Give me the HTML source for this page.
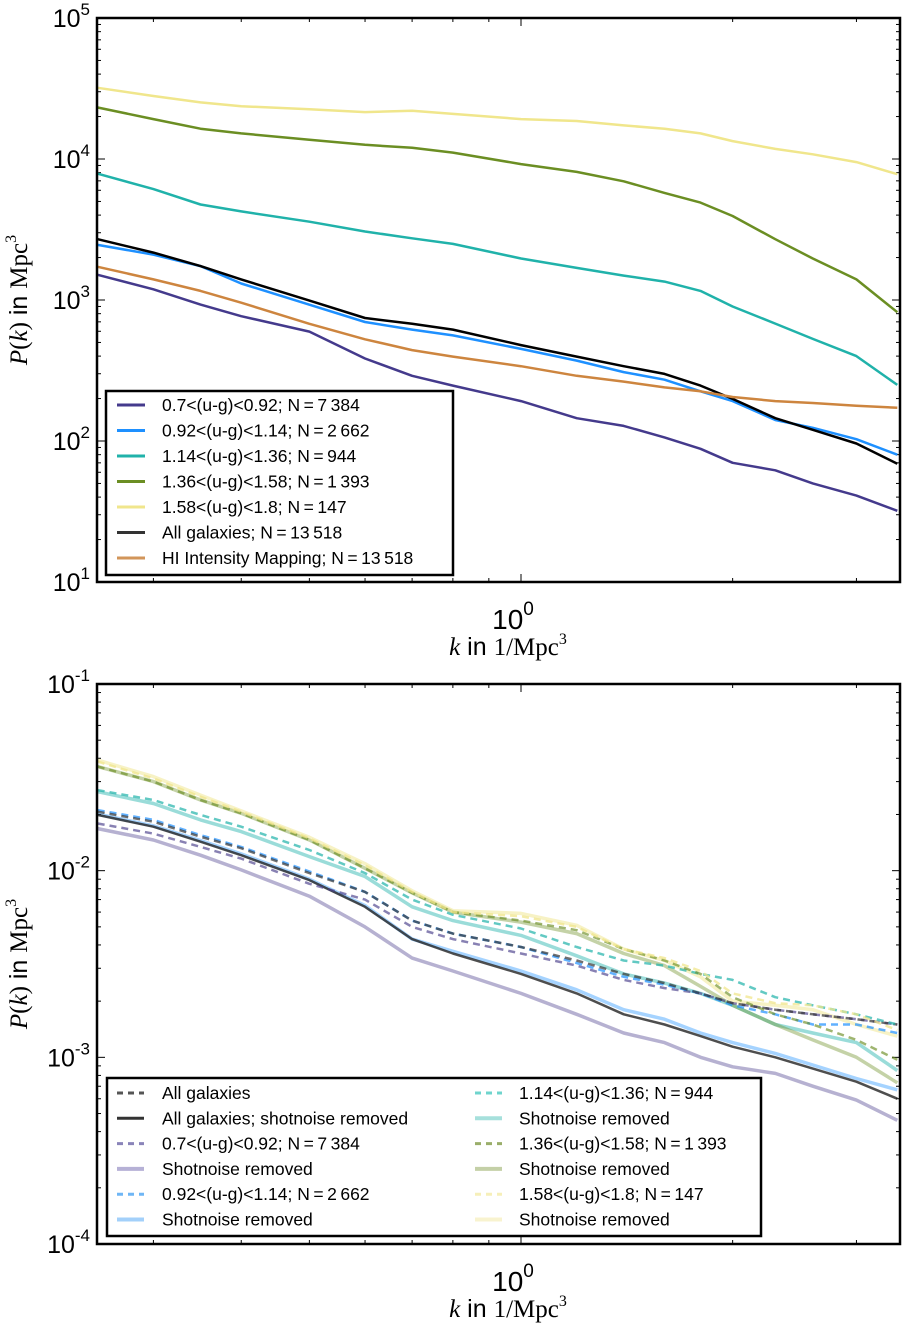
<!DOCTYPE html>
<html><head><meta charset="utf-8"><style>
html,body{margin:0;padding:0;background:#fff;}
svg{display:block;font-family:"Liberation Sans",sans-serif;}
</style></head><body>
<svg id="fig" width="907" height="1326" viewBox="0 0 907 1326" xmlns="http://www.w3.org/2000/svg"></svg>
<script>
// ---- shared data ----
const kValues = [0.25,0.3,0.35,0.4,0.5,0.6,0.7,0.8,1.0,1.2,1.4,1.6,1.8,2.0,2.3,2.6,3.0,3.43];
// top panel
const topPurple = [1510,1190,927,768,597,385,290,247,192,145,128,106,88,70,62,50,41,32];
const topBlue   = [2460,2100,1740,1310,926,698,617,561,450,372,308,272,225,192,141,124,103,80];
const topTeal   = [7870,6120,4760,4250,3590,3060,2740,2500,1970,1690,1490,1350,1160,900,680,530,400,250];
const topGreen  = [23200,19200,16400,15200,13700,12600,12000,11100,9200,8100,6950,5750,4910,3940,2700,1970,1400,820];
const topYellow = [32000,28000,25200,23700,22500,21500,22000,20900,19200,18600,17300,16400,15200,13400,11800,10800,9500,7800];
const topAll    = [2700,2170,1740,1400,990,745,678,617,479,397,339,299,247,199,145,120,96,69];
const topHI     = [1720,1400,1160,957,678,526,441,397,339,290,264,240,225,205,192,186,178,172];
const topLabels = ["0.7<(u-g)<0.92; N\u2009=\u20097\u2009384","0.92<(u-g)<1.14; N\u2009=\u20092\u2009662","1.14<(u-g)<1.36; N\u2009=\u2009944","1.36<(u-g)<1.58; N\u2009=\u20091\u2009393","1.58<(u-g)<1.8; N\u2009=\u2009147","All galaxies; N\u2009=\u200913\u2009518","HI Intensity Mapping; N\u2009=\u200913\u2009518"];
// bottom panel
const botAllDash    = [.0207,.0183,.0152,.0132,.0097,.0077,.0054,.0046,.0039,.0033,.0028,.0025,.0022,.00195,.0018,.0017,.0016,.0015];
const botAllSolid   = [.0199,.0172,.0143,.0121,.0089,.0064,.0043,.0036,.0028,.0022,.0017,.0015,.0013,.00114,.0010,.00087,.00074,.00060];
const botPurpleDash = [.0179,.0158,.0134,.0116,.0085,.0070,.0050,.0043,.0036,.0031,.0026,.00235,.0022,.00195,.0018,.0017,.0016,.0015];
const botPurpleSolid= [.0168,.0146,.0121,.0101,.0073,.0050,.0034,.0029,.0022,.0017,.00135,.0012,.0010,.00089,.00082,.00070,.00059,.00046];
const botBlueDash   = [.0211,.0187,.0155,.0134,.0099,.0077,.0054,.0046,.0039,.0032,.0027,.00245,.0022,.0019,.0017,.0015,.0015,.00135];
const botBlueSolid  = [.0201,.0174,.0145,.0123,.0090,.0065,.0043,.0037,.0029,.0023,.0018,.0016,.00135,.0012,.00105,.00091,.00077,.00067];
const botTealDash   = [.0270,.0239,.0199,.0172,.0129,.0097,.0070,.0058,.0049,.0039,.0033,.0031,.0028,.0026,.0021,.0019,.0017,.0015];
const botTealSolid  = [.0265,.0229,.0187,.0162,.0119,.0093,.0064,.0054,.0045,.0035,.0028,.0025,.0022,.0019,.0015,.00135,.0012,.00085];
const botGreenDash  = [.0361,.0300,.0239,.0203,.0146,.0103,.0076,.0060,.0054,.0048,.0038,.0033,.0028,.0021,.0017,.0015,.00124,.00097];
const botGreenSolid = [.0361,.0300,.0239,.0203,.0146,.0103,.0076,.0060,.0053,.0046,.0036,.0031,.0024,.0019,.0015,.00124,.0010,.00073];
const botYellowDash = [.0384,.0312,.0249,.0207,.0149,.0107,.0077,.0060,.0057,.0050,.0038,.0034,.0029,.0022,.00195,.0019,.0017,.0014];
const botYellowSolid= [.0391,.0319,.0254,.0209,.0151,.0109,.0078,.0061,.0059,.0051,.0038,.0033,.0027,.0020,.0019,.0018,.0015,.0013];
const botLabelsL = ["All galaxies","All galaxies; shotnoise removed","0.7<(u-g)<0.92; N\u2009=\u20097\u2009384","Shotnoise removed","0.92<(u-g)<1.14; N\u2009=\u20092\u2009662","Shotnoise removed"];
const botLabelsR = ["1.14<(u-g)<1.36; N\u2009=\u2009944","Shotnoise removed","1.36<(u-g)<1.58; N\u2009=\u20091\u2009393","Shotnoise removed","1.58<(u-g)<1.8; N\u2009=\u2009147","Shotnoise removed"];
const xTickMajor = [1];
const xTickMinor = [0.3,0.4,0.5,0.6,0.7,0.8,0.9,2,3];

const NS="http://www.w3.org/2000/svg";
const svg=document.getElementById('fig');
function mk(tag,attrs,parent){const e=document.createElementNS(NS,tag);for(const a in attrs)e.setAttribute(a,attrs[a]);(parent||svg).appendChild(e);return e;}

const X0=97,X1=900,LK0=Math.log10(0.2494),LK1=Math.log10(3.46);
function xs(k){return X0+(Math.log10(k)-LK0)/(LK1-LK0)*(X1-X0);}

function panel(name,top,bot,e0,e1){
  const g=mk('g',{});
  
  
  const ys=v=>bot-(Math.log10(v)-e0)/(e1-e0)*(bot-top);
  for(let e=e0;e<=e1;e++){
    for(let m=1;m<10;m++){
      if(e===e1&&m>1)break;
      const y=ys(m*Math.pow(10,e));const L=m===1?8:4;
      mk('line',{x1:X0,x2:X0+L,y1:y,y2:y,stroke:'#000','stroke-width':1},g);
      mk('line',{x1:X1,x2:X1-L,y1:y,y2:y,stroke:'#000','stroke-width':1},g);
    }
    const t=mk('text',{x:90,y:ys(Math.pow(10,e))+9,'text-anchor':'end','font-size':25},g);
    
    
    t.textContent='10';
    const s=mk('tspan',{dy:-12,'font-size':17},t);s.textContent=String(e);
  }
  xTickMinor.forEach(k=>{const x=xs(k);
    mk('line',{x1:x,x2:x,y1:bot,y2:bot-4,stroke:'#000'},g);
    mk('line',{x1:x,x2:x,y1:top,y2:top+4,stroke:'#000'},g);});
  xTickMajor.forEach(k=>{const x=xs(k);
    mk('line',{x1:x,x2:x,y1:bot,y2:bot-8,stroke:'#000'},g);
    mk('line',{x1:x,x2:x,y1:top,y2:top+8,stroke:'#000'},g);
    const t=mk('text',{x:x-8,y:bot+47,'text-anchor':'middle','font-size':28},g);
    
    
    t.textContent='10';const s=mk('tspan',{dy:-14,'font-size':19},t);s.textContent='0';});
  const xl=mk('text',{x:508,y:bot+73,'text-anchor':'middle','font-size':25},g);
  
  
  xl.innerHTML='<tspan font-family="Liberation Serif" font-style="italic">k</tspan> in <tspan font-family="Liberation Serif">1/Mpc</tspan><tspan font-family="Liberation Serif" font-size="16" dy="-11">3</tspan>';
  const yl=mk('text',{transform:`translate(27,${(top+bot)/2}) rotate(-90)`,'text-anchor':'middle','font-size':25},g);
  
  
  yl.innerHTML='<tspan font-family="Liberation Serif" font-style="italic">P</tspan><tspan font-family="Liberation Serif">(</tspan><tspan font-family="Liberation Serif" font-style="italic">k</tspan><tspan font-family="Liberation Serif">)</tspan> in <tspan font-family="Liberation Serif">Mpc</tspan><tspan font-family="Liberation Serif" font-size="16" dy="-11">3</tspan>';
  return {g,ys};
}
function series(g,ys,vals,name,color,w,dash,op){
  const d=vals.map((v,i)=>(i?'L':'M')+xs(kValues[i]).toFixed(1)+','+ys(v).toFixed(1)).join(' ');
  const p=mk('path',{d,fill:'none',stroke:color,'stroke-width':w,'stroke-opacity':op,'stroke-linejoin':'round'},g);
  if(dash)p.setAttribute('stroke-dasharray',dash);
  
  
}
function frame(g,top,bot){mk('rect',{x:X0,y:top,width:X1-X0,height:bot-top,fill:'none',stroke:'#000','stroke-width':2.5},g);}

// ---- top panel ----
const T=panel('top-panel',18,582,1,5);
const clipT=mk('clipPath',{id:'ct'});mk('rect',{x:X0,y:18,width:X1-X0,height:564},clipT);
const gt=mk('g',{'clip-path':'url(#ct)'},T.g);
const topSeries=[[topPurple,'#443a8c'],[topBlue,'#1e90ff'],[topTeal,'#20b2aa'],[topGreen,'#6b8e23'],[topYellow,'#f0e68c'],[topAll,'#000000'],[topHI,'#cd853f']];
const topNames=['line-purple','line-blue','line-teal','line-green','line-yellow','line-all-galaxies','line-hi-mapping'];
topSeries.forEach((s,i)=>series(gt,T.ys,s[0],topNames[i],s[1],2.5,null,1));
frame(T.g,18,582);
const lt=mk('g',{});


mk('rect',{x:106,y:391,width:347,height:184,fill:'#fff',stroke:'#000','stroke-width':2.5},lt);
topLabels.forEach((lab,i)=>{const y=405+i*25.5;
  const c=i===5?'#333':(i===6?'#d2955a':topSeries[i][1]);
  mk('line',{x1:117,x2:145,y1:y,y2:y,stroke:c,'stroke-width':3},lt);
  const t=mk('text',{x:162,y:y+6,'font-size':17.5},lt);
  
  
  t.textContent=lab;});

// ---- bottom panel ----
const B=panel('bottom-panel',684,1244,-4,-1);
const clipB=mk('clipPath',{id:'cb'});mk('rect',{x:X0,y:684,width:X1-X0,height:560},clipB);
const gb=mk('g',{'clip-path':'url(#cb)'},B.g);
const botSeries=[
 [botPurpleSolid,'#483d8b',3.5,null,0.4,'line-purple-shotnoise-removed'],
 [botBlueSolid,'#1e90ff',3.5,null,0.4,'line-blue-shotnoise-removed'],
 [botAllSolid,'#222',2.5,null,0.8,'line-all-shotnoise-removed'],
 [botTealSolid,'#20b2aa',3.5,null,0.45,'line-teal-shotnoise-removed'],
 [botGreenSolid,'#6b8e23',3.5,null,0.4,'line-green-shotnoise-removed'],
 [botYellowSolid,'#f0e68c',3.5,null,0.5,'line-yellow-shotnoise-removed'],
 [botPurpleDash,'#483d8b',2.5,'7,5',0.65,'line-purple-dashed'],
 [botBlueDash,'#1e90ff',2.5,'7,5',0.7,'line-blue-dashed'],
 [botAllDash,'#333',2.5,'7,5',0.7,'line-all-dashed'],
 [botTealDash,'#20b2aa',2.5,'7,5',0.7,'line-teal-dashed'],
 [botGreenDash,'#6b8e23',2.5,'7,5',0.65,'line-green-dashed'],
 [botYellowDash,'#f0e68c',2.5,'7,5',0.75,'line-yellow-dashed']];
botSeries.forEach(s=>series(gb,B.ys,s[0],s[5],s[1],s[2],s[3],s[4]));
frame(B.g,684,1244);
const lb=mk('g',{});


mk('rect',{x:107,y:1078,width:654,height:158,fill:'#fff',stroke:'#000','stroke-width':2.5},lb);
const hL=[['#555','6,5',3,1],['#333',null,3,1],['#8a84b9','6,5',3,1],['#b6b1d6',null,4,1],['#6fb6f5','6,5',3,1],['#a3d0fa',null,4,1]];
const hR=[['#6fd4cd','6,5',3,1],['#a6e0dc',null,4,1],['#9aae6a','6,5',3,1],['#c4d0a7',null,4,1],['#f6efb9','6,5',3,1],['#f8f3cf',null,4,1]];
function legRows(labels,hs,x0,tx){labels.forEach((lab,i)=>{const y=1093+i*25.3;
  const l=mk('line',{x1:x0,x2:x0+27,y1:y,y2:y,stroke:hs[i][0],'stroke-width':hs[i][2]},lb);
  if(hs[i][1])l.setAttribute('stroke-dasharray',hs[i][1]);
  const t=mk('text',{x:tx,y:y+6,'font-size':17.5},lb);
  
  
  t.textContent=lab;});}
legRows(botLabelsL,hL,117,162);
legRows(botLabelsR,hR,475,519);
</script>
</body></html>
